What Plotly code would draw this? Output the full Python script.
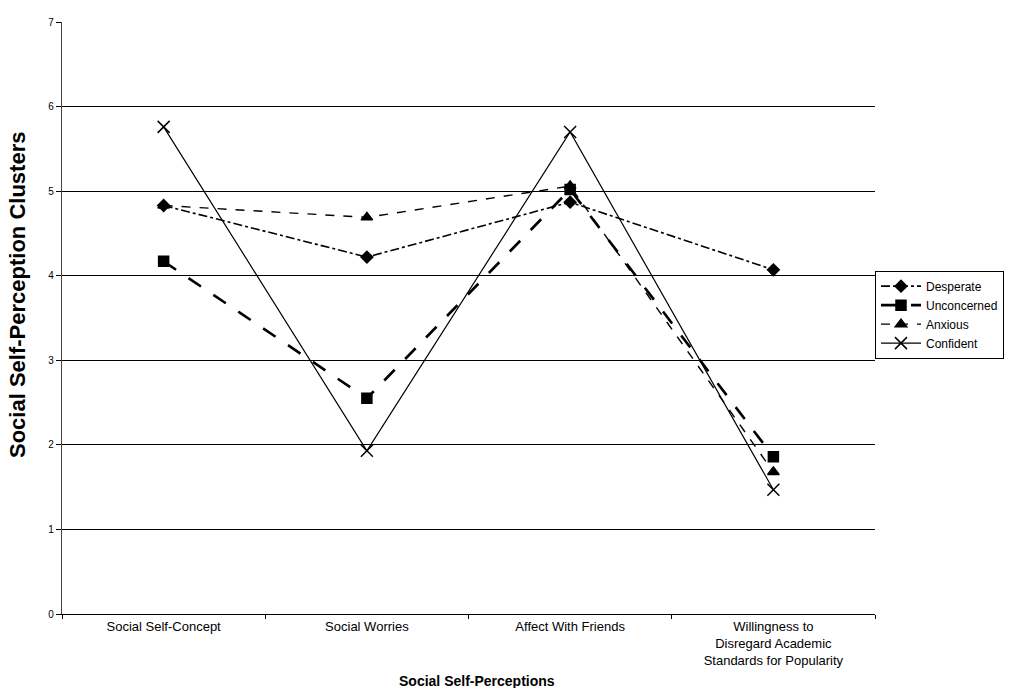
import plotly.graph_objects as go

categories = ["Social Self-Concept", "Social Worries", "Affect With Friends",
              "Willingness to<br>Disregard Academic<br>Standards for Popularity"]
series_names = ["Desperate", "Unconcerned", "Anxious", "Confident"]
desperate = [4.83, 4.22, 4.87, 4.07]
unconcerned = [4.17, 2.55, 5.02, 1.86]
anxious = [4.83, 4.69, 5.06, 1.68]
confident = [5.76, 1.93, 5.70, 1.47]
y_ticks = [0, 1, 2, 3, 4, 5, 6, 7]

styles = [
    dict(dash="dashdot", width=1.6, symbol="diamond", size=9),
    dict(dash="longdash", width=2.6, symbol="square", size=10),
    dict(dash="dash", width=1.4, symbol="triangle-up", size=10),
    dict(dash="solid", width=1.2, symbol="x-thin-open", size=12),
]
data = [desperate, unconcerned, anxious, confident]

fig = go.Figure()
for name, vals, st in zip(series_names, data, styles):
    fig.add_trace(go.Scatter(
        x=categories, y=vals, name=name, mode="lines+markers",
        line=dict(color="black", dash=st["dash"], width=st["width"]),
        marker=dict(symbol=st["symbol"], size=st["size"], color="black",
                    line=dict(color="black", width=1.5)),
    ))

fig.update_layout(
    width=1028, height=688,
    margin=dict(l=62, r=153, t=22, b=74),
    paper_bgcolor="white", plot_bgcolor="white",
    font=dict(family="Liberation Sans, Arial, sans-serif", size=11, color="black"),
    legend=dict(x=1.0, xanchor="left", y=0.58, yanchor="top",
                bordercolor="black", borderwidth=1, bgcolor="white",
                font=dict(size=12), tracegroupgap=0, itemwidth=40),
    showlegend=True,
    annotations=[
        dict(text="<b>Social Self-Perceptions</b>", xref="paper", yref="paper",
             x=0.51, y=-0.113, xanchor="center", yanchor="middle",
             showarrow=False, font=dict(size=14)),
        dict(text="<b>Social Self-Perception Clusters</b>", xref="paper", yref="paper",
             x=-0.054, y=0.539, xanchor="center", yanchor="middle", textangle=-90,
             showarrow=False, font=dict(size=22)),
    ],
)
fig.update_xaxes(
    type="category", range=[-0.5, 3.5], showgrid=False, automargin=False,
    showline=True, linecolor="black", linewidth=1.2,
    ticks="outside", ticklen=4, tickcolor="black", tickson="boundaries",
    tickfont=dict(size=13),
)
fig.update_yaxes(
    range=[0, 7], tickvals=y_ticks, showgrid=True, gridcolor="black", gridwidth=1.3,
    showline=True, linecolor="#444", linewidth=1.2, mirror=False, automargin=False,
    ticks="outside", ticklen=5, tickcolor="black",
    tickfont=dict(size=10), zeroline=False,
)

fig.write_html("out.html", config={"displayModeBar": False},
               post_script="document.body.style.margin='0';")
